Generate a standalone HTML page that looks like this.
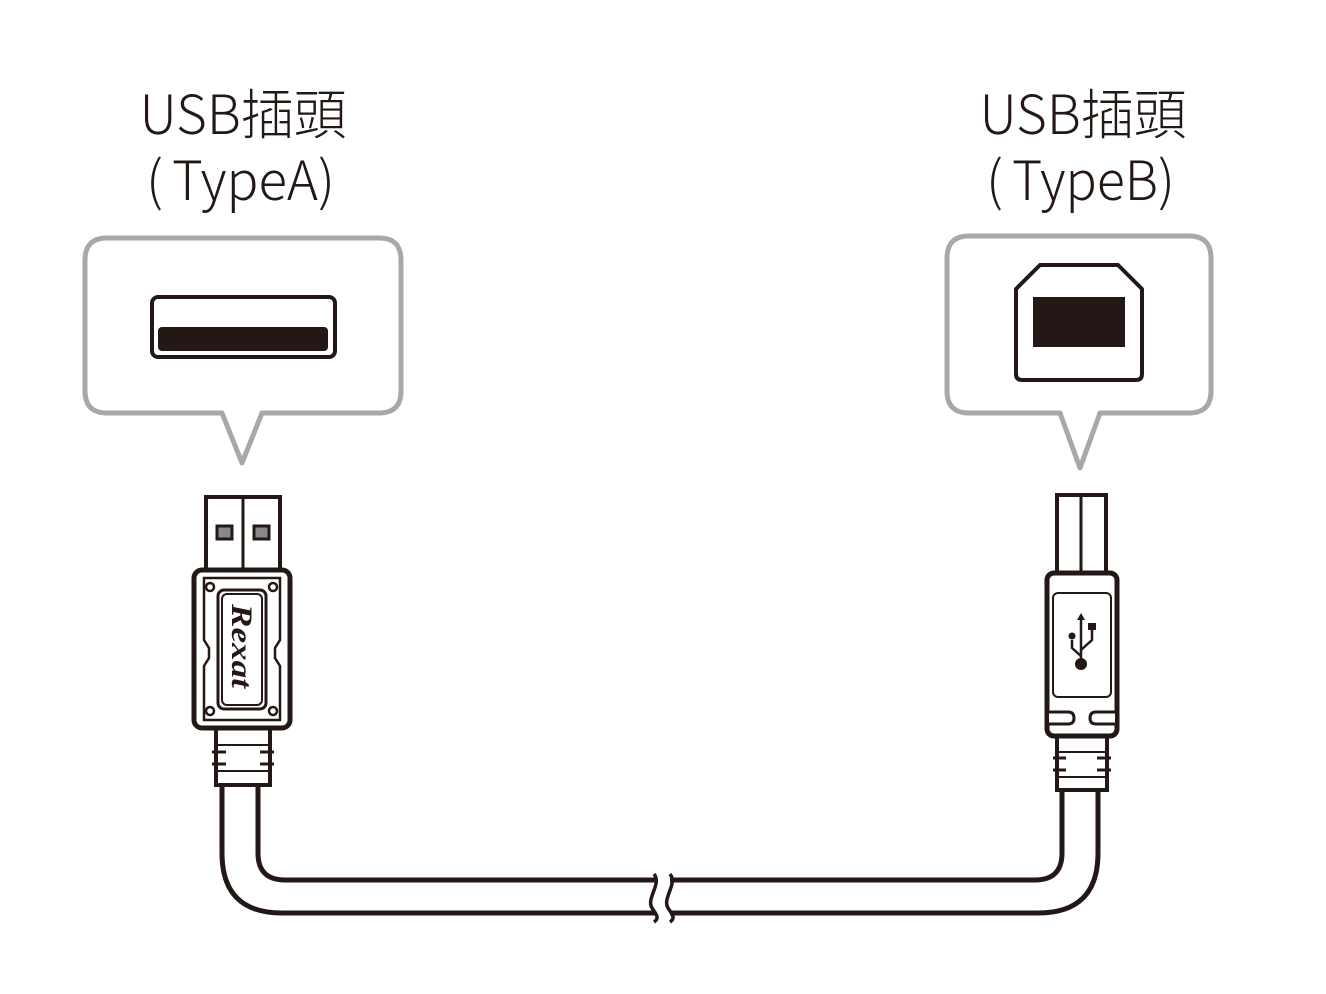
<!DOCTYPE html>
<html><head><meta charset="utf-8"><style>
html,body{margin:0;padding:0;background:#fff;}
svg{display:block;}
text{font-family:"Noto Sans CJK TC","Liberation Sans",sans-serif;fill:#231815;font-weight:300;}
</style></head><body>
<svg width="1326" height="994" viewBox="0 0 1326 994" xmlns="http://www.w3.org/2000/svg">
<!-- titles -->
<text x="243" y="134" font-size="54" text-anchor="middle" textLength="207" lengthAdjust="spacingAndGlyphs">USB插頭</text>
<text x="146" y="200" font-size="54">(</text>
<text x="172" y="200" font-size="54" textLength="146" lengthAdjust="spacingAndGlyphs">TypeA</text>
<text x="318" y="200" font-size="54">)</text>
<text x="1083" y="134" font-size="54" text-anchor="middle" textLength="207" lengthAdjust="spacingAndGlyphs">USB插頭</text>
<text x="986" y="200" font-size="54">(</text>
<text x="1012" y="200" font-size="54" textLength="146" lengthAdjust="spacingAndGlyphs">TypeB</text>
<text x="1158" y="200" font-size="54">)</text>

<!-- callout A -->
<path d="M107 238 H379 Q401 238 401 260 V391 Q401 413 379 413 H262 L242 463 L222 413 H107 Q85 413 85 391 V260 Q85 238 107 238 Z" fill="#fff" stroke="#a8a8a8" stroke-width="5" stroke-linejoin="round"/>
<rect x="152" y="297" width="183" height="60" rx="6" fill="#fff" stroke="#231815" stroke-width="4"/>
<rect x="158" y="327" width="170" height="24" rx="4" fill="#231815"/>

<!-- callout B -->
<path d="M969 236 H1189 Q1211 236 1211 258 V391 Q1211 413 1189 413 H1100 L1080 468 L1060 413 H969 Q947 413 947 391 V258 Q947 236 969 236 Z" fill="#fff" stroke="#a8a8a8" stroke-width="5" stroke-linejoin="round"/>
<path d="M1040 265 H1118 L1142 289 V374 Q1142 380 1136 380 H1022 Q1016 380 1016 374 V289 Z" fill="#fff" stroke="#231815" stroke-width="4" stroke-linejoin="round"/>
<rect x="1033" y="297" width="92" height="50" fill="#231815"/>

<!-- cable -->
<g fill="none" stroke="#231815" stroke-width="5">
<path d="M222 785 V853 Q222 913 282 913 H655"/>
<path d="M258 785 V853 Q258 880 285 880 H656"/>
<path d="M670 913 H1038 Q1098 913 1098 853 V790"/>
<path d="M670 880 H1035 Q1062 880 1062 853 V790"/>
<path d="M654 874 C662 884 646 898 652 908 C656 914 660 918 654 922" stroke-width="3.5"/>
<path d="M670 874 C678 884 662 898 668 908 C672 914 676 918 670 922" stroke-width="3.5"/>
</g>

<!-- plug A -->
<g stroke="#231815" fill="#fff">
<rect x="206" y="497" width="74" height="75" stroke-width="4"/>
<line x1="243" y1="497" x2="243" y2="572" stroke-width="3"/>
<rect x="217" y="526" width="15" height="13" fill="#888" stroke-width="3"/>
<rect x="254" y="526" width="15" height="13" fill="#888" stroke-width="3"/>
<path d="M216 727 H270 V785 H216 Z" stroke-width="4"/>
<line x1="216" y1="745" x2="270" y2="745" stroke-width="2"/>
<line x1="216" y1="771" x2="270" y2="771" stroke-width="2"/>
<path d="M212 752 H226 M212 764 H226 M260 752 H274 M260 764 H274" stroke-width="3"/>
<rect x="194" y="570" width="96" height="158" rx="8" stroke-width="5"/>
<path d="M204 578 H280 V640 L275 648 V658 L280 666 V720 H204 V666 L209 658 V648 L204 640 Z" stroke-width="2.5"/>
<rect x="218" y="590" width="48" height="119" rx="6" stroke-width="3"/>
<rect x="222" y="594" width="40" height="111" rx="5" stroke-width="2"/>
<circle cx="210" cy="587" r="4" stroke-width="2.5"/>
<circle cx="273" cy="587" r="4" stroke-width="2.5"/>
<circle cx="210" cy="711" r="4" stroke-width="2.5"/>
<circle cx="273" cy="711" r="4" stroke-width="2.5"/>
</g>
<text x="0" y="0" font-size="30" transform="translate(232 604) rotate(90)" style="font-family:'Liberation Serif',serif;font-style:italic;font-weight:bold" textLength="84" lengthAdjust="spacingAndGlyphs">Rexat</text>

<!-- plug B -->
<g stroke="#231815" fill="#fff">
<rect x="1057" y="495" width="49" height="80" stroke-width="4"/>
<line x1="1081" y1="495" x2="1081" y2="575" stroke-width="3"/>
<rect x="1057" y="735" width="50" height="55" stroke-width="4"/>
<line x1="1057" y1="752" x2="1107" y2="752" stroke-width="2"/>
<line x1="1057" y1="777" x2="1107" y2="777" stroke-width="2"/>
<path d="M1053 758 H1066 M1053 770 H1066 M1097 758 H1111 M1097 770 H1111" stroke-width="3"/>
<rect x="1047" y="573" width="70" height="163" rx="7" stroke-width="5"/>
<rect x="1053" y="593" width="58" height="104" rx="5" stroke-width="2"/>
<path d="M1049 712 H1068 Q1074 712 1074 718 Q1074 724 1068 724 H1049 M1115 712 H1096 Q1090 712 1090 718 Q1090 724 1096 724 H1115" stroke-width="3"/>
</g>
<!-- usb symbol -->
<g stroke="#231815" fill="none" stroke-width="2.5">
<line x1="1081" y1="618" x2="1081" y2="662"/>
<path d="M1072 640 V648 L1081 656"/>
<path d="M1092 628 V640 L1081 650"/>
</g>
<path d="M1081 613 L1077 620 H1085 Z" fill="#231815"/>
<rect x="1088" y="623" width="8" height="7" fill="#231815"/>
<circle cx="1072" cy="636" r="3.5" fill="#231815"/>
<circle cx="1081" cy="664" r="6" fill="#231815"/>
</svg>
</body></html>
